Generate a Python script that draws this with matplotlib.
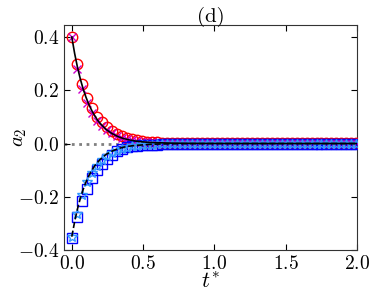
import matplotlib
matplotlib.use('Agg')
import matplotlib.pyplot as plt

plt.rcParams['font.family'] = 'serif'
plt.rcParams['font.serif'] = ['cmr10']
plt.rcParams['mathtext.fontset'] = 'cm'
plt.rcParams['axes.formatter.use_mathtext'] = True

# sample times of the simulation data
t = [0.0, 0.035, 0.07, 0.105, 0.14, 0.175, 0.21, 0.245, 0.28, 0.315,
     0.35, 0.385, 0.42, 0.455, 0.49, 0.525, 0.56, 0.595, 0.63, 0.665,
     0.7, 0.735, 0.77, 0.805, 0.84, 0.875, 0.91, 0.945, 0.98, 1.015,
     1.05, 1.085, 1.12, 1.155, 1.19, 1.225, 1.26, 1.295, 1.33, 1.365,
     1.4, 1.435, 1.47, 1.505, 1.54, 1.575, 1.61, 1.645, 1.68, 1.715,
     1.75, 1.785, 1.82, 1.855, 1.89, 1.925, 1.96, 1.995]

n_tail = len(t) - 18

circ = [0.400, 0.300, 0.225, 0.172, 0.133, 0.099, 0.080, 0.062, 0.047,
        0.037, 0.028, 0.021, 0.016, 0.012, 0.009, 0.007, 0.005, 0.004] + [0.003] * n_tail
cross = [0.400, 0.280, 0.206, 0.152, 0.115, 0.086, 0.066, 0.050, 0.038,
         0.029, 0.022, 0.016, 0.012, 0.009, 0.007, 0.005, 0.004, 0.003] + [0.002] * n_tail
squares = [-0.354, -0.275, -0.215, -0.171, -0.131, -0.098, -0.077, -0.058,
           -0.042, -0.029, -0.020, -0.014, -0.010, -0.008, -0.006, -0.005,
           -0.004, -0.004] + [-0.003] * n_tail
stars = [-0.352, -0.265, -0.194, -0.146, -0.110, -0.083, -0.063, -0.048,
         -0.036, -0.027, -0.020, -0.015, -0.011, -0.008, -0.006, -0.005,
         -0.004, -0.003] + [-0.002] * n_tail

# theory curves
t_line = [0.0, 0.02, 0.04, 0.06, 0.08, 0.10, 0.12, 0.14, 0.16, 0.18, 0.20,
          0.24, 0.28, 0.32, 0.36, 0.40, 0.45, 0.50, 0.55, 0.60, 0.70, 0.80,
          1.0, 1.5, 2.0]
upper = [0.400, 0.338, 0.286, 0.242, 0.204, 0.173, 0.146, 0.124, 0.105,
         0.088, 0.075, 0.053, 0.038, 0.027, 0.019, 0.014, 0.009, 0.006,
         0.004, 0.003, 0.0015, 0.0008, 0.0002, 0.0, 0.0]
lower = [-0.350, -0.293, -0.245, -0.205, -0.172, -0.144, -0.120, -0.101,
         -0.084, -0.071, -0.059, -0.041, -0.029, -0.020, -0.014, -0.010,
         -0.007, -0.005, -0.003, -0.002, -0.001, -0.0005, -0.0001, 0.0, 0.0]

fig = plt.figure(figsize=(3.74, 2.95), dpi=100)
ax = fig.add_axes([0.171, 0.1525, 0.784, 0.7625])

ax.axhline(0, color='gray', ls=':', lw=2, zorder=1)

ax.plot(t, circ, 'o', mfc='none', mec='red', ms=7.5, mew=1, zorder=3)
ax.plot(t, cross, 'x', color='#cc00cc', ms=6, mew=1, zorder=3)
ax.plot(t, squares, 's', mfc='none', mec='blue', ms=7.5, mew=1, zorder=3)
ax.plot(t, stars, '*', mfc='none', mec='#3399ff', ms=7, mew=1, zorder=3)

ax.plot(t_line, upper, '-', color='black', lw=1.2, zorder=4)
ax.plot(t_line, lower, '--', color='black', lw=1.2, zorder=4)

ax.set_xlim(-0.055, 2.0)
ax.set_ylim(-0.4, 0.445)
ax.set_xticks([0.0, 0.5, 1.0, 1.5, 2.0])
ax.set_yticks([-0.4, -0.2, 0.0, 0.2, 0.4])
ax.tick_params(direction='in', top=True, right=True, labelsize=14, length=4)

ax.set_xlabel(r'$t^{*}$', fontsize=16, labelpad=-1)
ax.set_ylabel(r'$a_2$', fontsize=15)
ax.yaxis.set_label_coords(-0.12, 0.5)
ax.set_title('(d)', fontsize=15, pad=2)

for s in ax.spines.values():
    s.set_color('#333333')

fig.savefig('out.png', dpi=100)
